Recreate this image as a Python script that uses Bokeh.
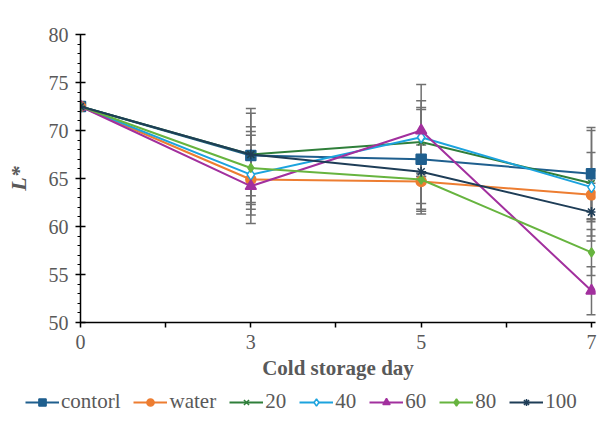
from bokeh.plotting import figure
from bokeh.layouts import column
from bokeh.models import (ColumnDataSource, Whisker, FixedTicker, Legend, LegendItem, TeeHead)
from bokeh.embed import file_html
from bokeh.resources import INLINE

days = ["0", "3", "5", "7"]
xpos = [0, 1, 2, 3]

series_names = ["contorl", "water", "20", "40", "60", "80", "100"]

control = [72.5, 67.4, 67.0, 65.5]
water = [72.5, 64.9, 64.7, 63.3]
s20 = [72.5, 67.5, 68.8, 64.5]
s40 = [72.5, 65.4, 69.3, 64.1]
s60 = [72.5, 64.2, 70.0, 53.3]
s80 = [72.5, 66.1, 64.9, 57.3]
s100 = [72.5, 67.5, 65.7, 61.5]

err_control = [0.3, 4.9, 5.2, 4.8]
err_water = [0.3, 4.6, 2.3, 2.5]
err_20 = [0.3, 4.3, 3.6, 5.5]
err_40 = [0.3, 3.1, 3.8, 3.6]
err_60 = [0.3, 3.0, 4.8, 2.5]
err_80 = [0.3, 4.3, 3.6, 2.4]
err_100 = [0.3, 2.4, 4.1, 3.0]

values = [control, water, s20, s40, s60, s80, s100]
errors = [err_control, err_water, err_20, err_40, err_60, err_80, err_100]
colors = ["#1F5F8E", "#ED7D31", "#2F7F3A", "#1CA3DE", "#A2309E", "#67B43F", "#1E3D57"]
markers = ["square", "circle", "x", "diamond", "triangle", "diamond", "asterisk"]
msizes = [10, 10, 9, 11, 11, 9, 10]
mfills = [None, None, None, "white", None, None, None]

FONT = "Liberation Serif"
GRAY = "#595959"
EBAR = "#707070"

p = figure(width=598, height=382, output_backend="svg", toolbar_location=None,
           x_range=(0, 3.0235), y_range=(50, 80),
           min_border_left=80, min_border_top=34, min_border_right=3,
           min_border_bottom=59, frame_align=False)
p.outline_line_color = None
p.xgrid.grid_line_color = None
p.ygrid.grid_line_color = None

# error bars
for vals, errs in zip(values, errors):
    src = ColumnDataSource(dict(x=xpos,
                                lo=[v - e for v, e in zip(vals, errs)],
                                hi=[v + e for v, e in zip(vals, errs)]))
    w = Whisker(base="x", lower="lo", upper="hi", source=src,
                line_color=EBAR, line_width=1.5,
                lower_head=TeeHead(size=10, line_color=EBAR, line_width=1.5),
                upper_head=TeeHead(size=10, line_color=EBAR, line_width=1.5))
    p.add_layout(w)

for vals, col, mk, ms, mf in zip(values, colors, markers, msizes, mfills):
    src = ColumnDataSource(dict(x=xpos, y=vals))
    p.line("x", "y", source=src, line_color=col, line_width=2)
    p.scatter("x", "y", source=src, marker=mk, size=ms,
              line_color=col, fill_color=(mf if mf else col), line_width=1.5)

# axes
xa = p.xaxis[0]
xa.ticker = FixedTicker(ticks=xpos, minor_ticks=[0.5, 1.5, 2.5])
xa.major_label_overrides = {i: d for i, d in zip(xpos, days)}
xa.axis_label = "Cold storage day"
xa.axis_line_color = "black"
xa.axis_line_width = 1.5
xa.major_tick_line_color = "black"
xa.minor_tick_line_color = "black"
xa.major_tick_line_width = 1.5
xa.minor_tick_line_width = 1.5
xa.major_tick_in = 0
xa.major_tick_out = 5
xa.minor_tick_in = 0
xa.minor_tick_out = 5
xa.major_label_text_font = FONT
xa.major_label_text_font_size = "20px"
xa.major_label_text_color = GRAY
xa.major_label_standoff = 7
xa.axis_label_text_font = FONT
xa.axis_label_text_font_size = "21px"
xa.axis_label_text_font_style = "bold"
xa.axis_label_text_color = GRAY
xa.axis_label_standoff = 4

ya = p.yaxis[0]
ya.ticker = FixedTicker(ticks=[50, 55, 60, 65, 70, 75, 80],
                        minor_ticks=[v for v in range(50, 81) if v % 5])
ya.axis_label = "L*"
ya.axis_line_color = "black"
ya.axis_line_width = 1.5
ya.major_tick_line_color = "black"
ya.minor_tick_line_color = "black"
ya.major_tick_line_width = 1.5
ya.minor_tick_line_width = 1.2
ya.major_tick_in = 5
ya.major_tick_out = 5
ya.minor_tick_in = 0
ya.minor_tick_out = 3
ya.major_label_text_font = FONT
ya.major_label_text_font_size = "20px"
ya.major_label_text_color = GRAY
ya.major_label_standoff = 7
ya.axis_label_text_font = FONT
ya.axis_label_text_font_size = "22px"
ya.axis_label_text_font_style = "bold italic"
ya.axis_label_text_color = GRAY
ya.axis_label_standoff = 15

# legend strip (separate figure so the legend sits under the axis title)
lf = figure(width=598, height=39, output_backend="svg", toolbar_location=None,
            x_range=(0, 1), y_range=(0, 1), x_axis_type=None, y_axis_type=None,
            min_border=0, frame_align=False)
lf.outline_line_color = None
lf.xgrid.grid_line_color = None
lf.ygrid.grid_line_color = None
items = []
for name, col, mk, ms, mf in zip(series_names, colors, markers, msizes, mfills):
    # points placed outside the strip's visible range: only the legend shows them
    hidden = ColumnDataSource(dict(x=[-5, -4], y=[-5, -5]))
    r1 = lf.line("x", "y", source=hidden, line_color=col, line_width=2)
    r2 = lf.scatter("x", "y", source=hidden, marker=mk, size=ms,
                    line_color=col, fill_color=(mf if mf else col), line_width=1.5)
    items.append(LegendItem(label=name, renderers=[r1, r2]))

legend = Legend(items=items, orientation="horizontal", location=(25, 7),
                label_text_font=FONT, label_text_font_size="21px",
                label_text_color=GRAY, glyph_width=34, glyph_height=18,
                label_standoff=2, spacing=13, padding=0, margin=0,
                border_line_color=None, background_fill_alpha=0)
lf.add_layout(legend, "center")

layout = column(p, lf, spacing=0)
open("out.html", "w").write(file_html(layout, INLINE))
